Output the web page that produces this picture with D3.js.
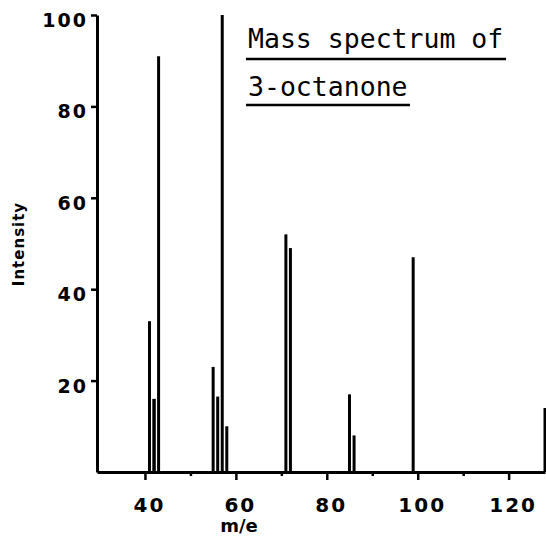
<!DOCTYPE html>
<html>
<head>
<meta charset="utf-8">
<script src="https://cdn.jsdelivr.net/npm/d3@7"></script>
<style>
  html, body { margin: 0; padding: 0; background: #fff; }
  svg { display: block; }
</style>
</head>
<body>
<svg id="chart" width="546" height="544"></svg>
<script>
// Mass spectrum of 3-octanone: m/e values and relative intensities
const massToCharge = [41, 42, 43, 55, 56, 57, 58, 71, 72, 85, 86, 99, 128];
const intensity    = [33, 16, 91, 23, 16.5, 100, 10, 52, 49, 17, 8, 47, 14];

const yTickValues = [20, 40, 60, 80, 100];
const xMajorTicks = [40, 60, 80, 100, 120];
const xMinorTicks = [50, 70, 90, 110];

const titleLines = ["Mass spectrum of", "3-octanone"];
const xLabel = "m/e";
const yLabel = "Intensity";

const svg = d3.select("#chart");
const ink = "#000";
const labelFont = "'DejaVu Sans', sans-serif";

const x = d3.scaleLinear().domain([29.45, 128]).range([97, 545]);
const y = d3.scaleLinear().domain([0, 100]).range([472, 15]);

// spectrum lines
svg.append("g")
  .selectAll("line")
  .data(massToCharge.map((m, i) => ({ m, v: intensity[i] })))
  .join("line")
  .attr("x1", d => x(d.m)).attr("x2", d => x(d.m))
  .attr("y1", y(0)).attr("y2", d => y(d.v))
  .attr("stroke", ink)
  .attr("stroke-width", d => d.m === 42 ? 3.5 : 3);

// x axis: major ticks with labels
const xAxis = svg.append("g")
  .attr("transform", `translate(0,${y(0)})`)
  .call(d3.axisBottom(x).tickValues(xMajorTicks).tickSize(8).tickSizeOuter(0).tickPadding(18));
xAxis.select(".domain").attr("stroke", ink).attr("stroke-width", 3);
xAxis.selectAll(".tick line").attr("stroke", ink).attr("stroke-width", 2.5);
xAxis.selectAll(".tick text")
  .attr("fill", ink)
  .attr("font-family", labelFont)
  .attr("font-weight", "bold")
  .attr("font-size", 20)
  .attr("letter-spacing", 2)
  .attr("dx", 4);

// x axis: minor ticks
svg.append("g")
  .attr("transform", `translate(0,${y(0)})`)
  .call(d3.axisBottom(x).tickValues(xMinorTicks).tickSize(4).tickSizeOuter(0).tickFormat(""))
  .call(g => g.select(".domain").remove())
  .call(g => g.selectAll(".tick line").attr("stroke", ink).attr("stroke-width", 2.5));

// y axis
const yAxis = svg.append("g")
  .attr("transform", `translate(${x(29.45)},0)`)
  .call(d3.axisLeft(y).tickValues(yTickValues).tickSize(6).tickSizeOuter(0).tickPadding(3));
yAxis.select(".domain").attr("stroke", ink).attr("stroke-width", 3);
yAxis.selectAll(".tick line").attr("stroke", ink).attr("stroke-width", 2.5);
yAxis.selectAll(".tick text")
  .attr("fill", ink)
  .attr("font-family", labelFont)
  .attr("font-weight", "bold")
  .attr("font-size", 19)
  .attr("letter-spacing", 2)
  .attr("dy", "0.6em");

// axis titles
svg.append("text")
  .attr("x", 239).attr("y", 532)
  .attr("text-anchor", "middle")
  .attr("font-family", labelFont)
  .attr("font-weight", "bold")
  .attr("font-size", 18)
  .attr("fill", ink)
  .text(xLabel);

svg.append("text")
  .attr("transform", "translate(24,244) rotate(-90)")
  .attr("text-anchor", "middle")
  .attr("font-family", labelFont)
  .attr("font-weight", "bold")
  .attr("font-size", 15)
  .attr("letter-spacing", 1)
  .attr("fill", ink)
  .text(yLabel);

// underlined title
const titleFont = "'DejaVu Sans Mono', monospace";
const titleRows = [
  { text: titleLines[0], baseline: 48, underline: 59, x2: 506 },
  { text: titleLines[1], baseline: 96, underline: 105, x2: 410 }
];
titleRows.forEach(r => {
  svg.append("text")
    .attr("x", 248).attr("y", r.baseline)
    .attr("font-family", titleFont)
    .attr("font-size", 26.5)
    .attr("fill", ink)
    .text(r.text);
  svg.append("line")
    .attr("x1", 246).attr("x2", r.x2)
    .attr("y1", r.underline).attr("y2", r.underline)
    .attr("stroke", ink).attr("stroke-width", 2.5);
});
</script>
</body>
</html>
